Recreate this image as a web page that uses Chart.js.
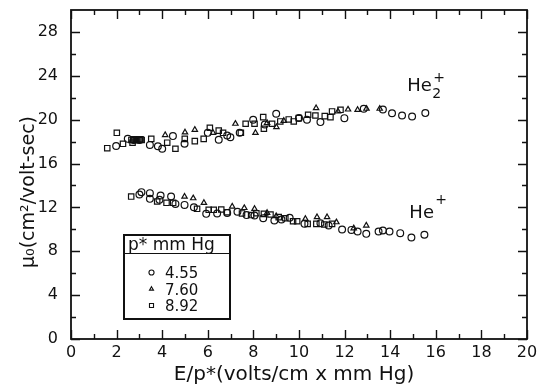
<!DOCTYPE html>
<html><head><meta charset="utf-8">
<script src="https://cdn.jsdelivr.net/npm/chart.js@4.4.1/dist/chart.umd.min.js"></script>
<style>html,body{margin:0;padding:0;background:#fff}#wrap{width:538px;height:388px}</style>
</head><body><div id="wrap"><canvas id="c" width="538" height="388"></canvas></div>
<script>
// pressure p* (mm Hg) for each series
const pressures = ['4.55', '7.60', '8.92'];
const pointStyles = ['circle', 'triangle', 'rect'];

// p* = 4.55 (circles)
const p455X = [1.98,2.49,2.75,3.0,3.46,3.81,4.0,4.47,4.98,6.0,6.48,6.85,6.99,7.40,7.99,8.5,9.0,10.0,10.35,10.94,11.99,12.84,13.68,14.08,14.52,14.96,15.54,
  3.0,3.09,3.46,3.46,3.93,3.88,4.39,4.58,4.98,5.39,5.93,6.41,6.85,7.3,7.7,8.05,8.43,8.92,9.23,9.59,10.24,10.94,11.3,11.89,12.3,12.57,12.95,13.49,13.68,13.97,14.44,14.93,15.5];
const p455Y = [17.6,18.25,18.15,18.15,17.7,17.58,17.35,18.5,17.8,18.8,18.17,18.56,18.4,18.8,19.99,19.56,20.54,20.15,19.99,19.78,20.14,21.0,20.93,20.59,20.38,20.29,20.6,
  13.18,13.39,13.3,12.78,13.08,12.69,12.99,12.32,12.23,12.02,11.41,11.45,11.5,11.6,11.3,11.26,11.01,10.8,10.9,11.05,10.5,10.56,10.35,9.98,9.95,9.8,9.59,9.8,9.89,9.8,9.65,9.25,9.5];

// p* = 7.60 (triangles)
const p760X = [4.13,5.0,5.43,6.23,7.21,8.09,8.6,9.01,9.33,10.75,11.71,12.15,12.57,12.96,13.54,
  4.98,5.36,5.83,7.07,7.6,8.05,8.6,9.0,10.28,10.79,11.23,11.64,12.4,12.95];
const p760Y = [18.6,18.85,19.08,18.8,19.63,18.8,19.7,19.32,19.9,21.05,20.75,20.93,20.9,21.0,21.0,
  12.99,12.84,12.42,12.08,11.95,11.87,11.5,11.2,10.96,11.11,11.11,10.65,10.1,10.35];

// p* = 8.92 (squares)
const p892X = [1.59,2.01,2.28,2.65,2.7,2.75,2.8,2.85,2.9,2.95,3.0,3.05,3.1,3.52,4.22,4.58,4.99,5.43,5.82,6.09,6.48,6.67,7.45,7.66,8.05,8.43,8.46,8.82,9.18,9.55,9.77,9.99,10.4,10.72,11.13,11.38,11.45,11.82,
  2.64,3.78,4.19,4.48,5.53,6.04,6.26,6.59,6.85,7.5,7.9,8.13,8.46,8.75,9.11,9.4,9.74,9.92,10.38,10.76,11.11,11.45];
const p892Y = [17.4,18.8,17.8,18.15,17.9,18.2,18.15,18.2,18.15,18.2,18.15,18.2,18.15,18.25,17.9,17.35,18.25,18.04,18.25,19.26,19.0,18.8,18.8,19.63,19.63,20.23,19.17,19.63,19.84,20.02,19.84,20.14,20.45,20.38,20.32,20.23,20.75,20.9,
  12.99,12.54,12.42,12.42,11.87,11.78,11.78,11.81,11.56,11.45,11.3,11.47,11.41,11.35,11.11,11.01,10.74,10.74,10.5,10.5,10.44,10.5];

// axis ticks
const xTickValues = [0,2,4,6,8,10,12,14,16,18,20];
const xMinorTicks = [1,3,5,7,9,11,13,15,17,19];
const yTickValues = [0,4,8,12,16,20,24,28];
const yMinorTicks = [2,6,10,14,18,22,26];

const xTitle = 'E/p*(volts/cm x mm Hg)';
const yTitle = 'μ₀(cm²/volt-sec)';
const legendTitle = 'p* mm Hg';

const seriesX = [p455X, p760X, p892X];
const seriesY = [p455Y, p760Y, p892Y];
const radii = [3.4, 3.1, 3.8];

const datasets = pressures.map((p, i) => ({
  label: p,
  data: seriesX[i].map((x, j) => ({x: x, y: seriesY[i][j]})),
  pointStyle: pointStyles[i],
  pointRadius: radii[i],
  pointBorderWidth: 1.2,
  pointBorderColor: '#111',
  pointBackgroundColor: 'rgba(255,255,255,0)',
  showLine: false
}));

const FONT = 'DejaVu Sans';
const INK = '#111';

const framePlugin = {
  id: 'frame',
  afterDraw(chart) {
    const {ctx, chartArea: a, scales: {x, y}} = chart;
    ctx.save();
    ctx.strokeStyle = INK;
    ctx.fillStyle = INK;
    ctx.lineWidth = 1.8;
    ctx.strokeRect(a.left, a.top, a.right - a.left, a.bottom - a.top);
    ctx.lineWidth = 1.4;
    ctx.beginPath();
    const xt = (v, len) => {
      const px = Math.round(x.getPixelForValue(v)) + 0.5;
      ctx.moveTo(px, a.bottom); ctx.lineTo(px, a.bottom - len);
      ctx.moveTo(px, a.top); ctx.lineTo(px, a.top + len);
    };
    const yt = (v, len) => {
      const py = Math.round(y.getPixelForValue(v)) + 0.5;
      ctx.moveTo(a.left, py); ctx.lineTo(a.left + len, py);
      ctx.moveTo(a.right, py); ctx.lineTo(a.right - len, py);
    };
    xTickValues.forEach(v => xt(v, 9));
    xMinorTicks.forEach(v => xt(v, 5));
    yTickValues.forEach(v => yt(v, 9));
    yMinorTicks.forEach(v => yt(v, 5));
    ctx.stroke();

    // axis titles
    ctx.textBaseline = 'middle';
    ctx.textAlign = 'center';
    ctx.font = '20px ' + FONT;
    ctx.fillText(xTitle, 294, 375);
    ctx.save();
    ctx.translate(29, 192);
    ctx.rotate(-Math.PI / 2);
    ctx.font = '19px ' + FONT;
    ctx.fillText(yTitle, 0, 0);
    ctx.restore();

    // curve labels
    ctx.textAlign = 'left';
    ctx.textBaseline = 'alphabetic';
    const hx2 = x.getPixelForValue(14.75), hy2 = y.getPixelForValue(22.57);
    ctx.font = '18px ' + FONT;
    ctx.fillText('He', hx2, hy2);
    ctx.font = '14px ' + FONT;
    ctx.fillText('2', hx2 + 25, hy2 + 7);
    ctx.fillText('+', hx2 + 26, hy2 - 9);
    const hx1 = x.getPixelForValue(14.84), hy1 = y.getPixelForValue(10.99);
    ctx.font = '18px ' + FONT;
    ctx.fillText('He', hx1, hy1);
    ctx.font = '14px ' + FONT;
    ctx.fillText('+', hx1 + 26, hy1 - 14);

    // legend box
    const L = 124, T = 235, R = 230, B = 319, H = 253;
    ctx.lineWidth = 2;
    ctx.strokeRect(L, T, R - L, B - T);
    ctx.lineWidth = 1.2;
    ctx.beginPath(); ctx.moveTo(L, H + 0.5); ctx.lineTo(R, H + 0.5); ctx.stroke();
    ctx.font = '17px ' + FONT;
    ctx.fillText(legendTitle, 128, 250);
    ctx.font = '15px ' + FONT;
    const rowY = [272.5, 289, 305.5];
    pressures.forEach((p, i) => {
      ctx.fillStyle = INK;
      ctx.fillText(p, 165, rowY[i] + 5.5);
      ctx.fillStyle = '#fff';
      ctx.strokeStyle = INK;
      ctx.lineWidth = 1.1;
      Chart.helpers.drawPoint(ctx, {pointStyle: pointStyles[i], radius: radii[i] * 0.75, borderWidth: 1.1}, 151.5, rowY[i]);
    });
    ctx.restore();
  }
};

new Chart(document.getElementById('c'), {
  type: 'scatter',
  data: {datasets},
  options: {
    responsive: false,
    animation: false,
    devicePixelRatio: 1,
    layout: {padding: {left: 0, right: 11, top: 10, bottom: 0}},
    plugins: {legend: {display: false}, tooltip: {enabled: false}},
    scales: {
      x: {
        type: 'linear', min: 0, max: 20,
        grid: {display: false}, border: {display: false},
        afterBuildTicks: s => { s.ticks = xTickValues.map(v => ({value: v})); },
        afterFit: s => { s.height = 49; s.paddingLeft = 0; s.paddingRight = 0; },
        ticks: {font: {family: FONT, size: 16}, color: INK, padding: -4, maxRotation: 0, autoSkip: false}
      },
      y: {
        type: 'linear', min: 0, max: 30,
        grid: {display: false}, border: {display: false},
        afterBuildTicks: s => { s.ticks = yTickValues.map(v => ({value: v})); },
        afterFit: s => { s.width = 71; s.paddingTop = 0; s.paddingBottom = 0; },
        ticks: {font: {family: FONT, size: 16}, color: INK, padding: 5, autoSkip: false}
      }
    }
  },
  plugins: [framePlugin]
});
</script>
</body></html>
